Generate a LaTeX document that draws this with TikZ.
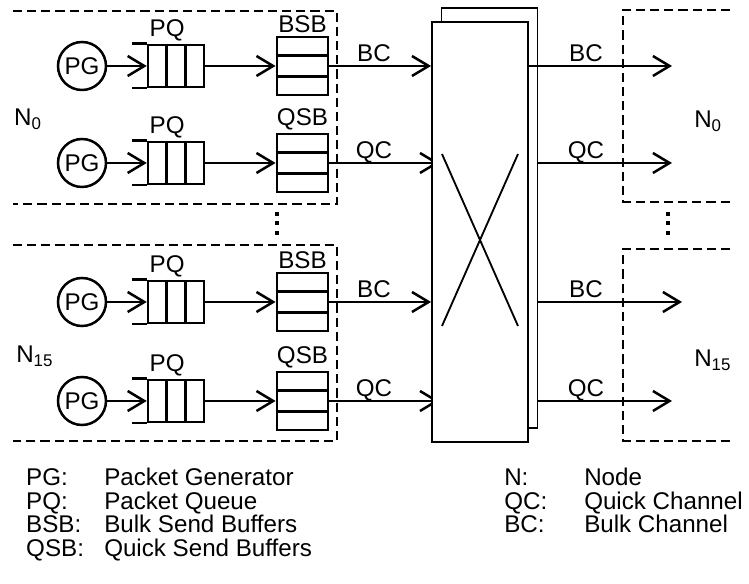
\documentclass[tikz,border=0pt]{standalone}
\usepackage{fontspec}
\setmainfont{Liberation Sans}
\usetikzlibrary{arrows.meta,positioning,calc}

\begin{document}
\begin{tikzpicture}[x=0.6pt,y=-0.6pt,
  font=\fontsize{14.5}{17}\selectfont,
  line width=1.5pt,
  >={Straight Barb[length=10pt,width=12pt]},
  nodebox/.style={line width=1.7pt,dash pattern=on 5.5pt off 3pt},
  gen/.style={circle,draw,minimum size=28.8pt,inner sep=0pt},
  queue/.style={draw,minimum width=33.6pt,minimum height=25.2pt,inner sep=0pt},
  sendbuf/.style={draw,line width=1.7pt,minimum width=30.6pt,minimum height=34.8pt,inner sep=0pt},
  crossbar/.style={draw,fill=white,line width=1.1pt,minimum width=57.6pt,minimum height=252pt,inner sep=0pt},
  tag/.style={inner sep=1pt},
  chan/.style={anchor=base,inner sep=0pt,yshift=2.4pt},
  key/.style={anchor=base west,inner sep=0pt}]

  \useasboundingbox (0,0) rectangle (749,584);

  % Node boxes
  \draw[nodebox] (13,11) -| (337,204) -- (13,204);
  \draw[nodebox] (13,245) -| (337,441) -- (13,441);
  \draw[nodebox] (730,10) -| (623,202) -- (730,202);
  \draw[nodebox] (730,249) -| (623,441) -- (730,441);
  \node[key] (n0in) at (13,126) {N\textsubscript{0}};
  \node[key] (n15in) at (15,363) {N\textsubscript{15}};
  \node[key] (n0out) at (693,128) {N\textsubscript{0}};
  \node[key] (n15out) at (693,367) {N\textsubscript{15}};
  \foreach \yy in {212,221,231} {
    \fill (275,\yy) rectangle ++(4,4);
    \fill (666,\yy) rectangle ++(4,4);
  }

  % Crossbar switch (front plane is drawn after the channels)
  \node[crossbar] (swb) at (489.5,218) {};
  \node[crossbar,draw=none,fill=none] (sw) at (480,232) {};

  % Generators, queues, send buffers and channels
  \foreach \r/\y/\b/\c/\s/\e/\t in {1/66/BSB/BC/sw/672/0pt, 2/163/QSB/QC/swb/672/-4.8pt,
                                    3/302/BSB/BC/swb/682/0pt, 4/401/QSB/QC/swb/672/-4.8pt}{
    \node[gen] (pg\r) at (82,\y) {PG};
    \node[queue] (pq\r) at (176,\y) {};
    \node[sendbuf] (sb\r) at (302.5,\y) {};
    \node[tag,anchor=south west] (pql\r) at (pq\r.north west) {PQ};
    \node[tag,above=0pt of sb\r] (sbl\r) {\b};
    \draw (pq\r.north west) -- ++(-15,0);
    \draw (pq\r.south west) -- ++(-15,0);
    \draw ($(pq\r.north west)!1/3!(pq\r.north east)$) -- ($(pq\r.south west)!1/3!(pq\r.south east)$);
    \draw ($(pq\r.north west)!2/3!(pq\r.north east)$) -- ($(pq\r.south west)!2/3!(pq\r.south east)$);
    \draw[line width=1.7pt] ($(sb\r.north west)!1/3!(sb\r.south west)$) -- ($(sb\r.north east)!1/3!(sb\r.south east)$);
    \draw[line width=1.7pt] ($(sb\r.north west)!2/3!(sb\r.south west)$) -- ($(sb\r.north east)!2/3!(sb\r.south east)$);
    \draw[->] (pg\r) -- (pq\r);
    \draw[->] (pq\r) -- (sb\r);
    \draw[->,shorten >=\t] (sb\r) -- (sw.west |- sb\r);
    \node[chan] (cl\r) at (374,\y) {\c};
    \coordinate (out\r) at (\e,\y);
    \draw[->] (\s.east |- sb\r) -- (out\r);
    \node[chan] (cr\r) at (586,\y) {\c};
  }

  % Front plane of the switch
  \node[crossbar] (swf) at (sw.center) {};
  \draw[line width=1.1pt] (442,154) -- (518,326);
  \draw[line width=1.1pt] (518,154) -- (442,326);

  % Legend
  \node[key] (k1) at (25,486) {PG:};
  \node[key] (d1) at (103,486) {Packet Generator};
  \node[key] (k2) at (25,509.5) {PQ:};
  \node[key] (d2) at (103,509.5) {Packet Queue};
  \node[key] (k3) at (25,533) {BSB:};
  \node[key] (d3) at (103,533) {Bulk Send Buffers};
  \node[key] (k4) at (25,556.5) {QSB:};
  \node[key] (d4) at (103,556.5) {Quick Send Buffers};
  \node[key] (k5) at (503,486) {N:};
  \node[key] (d5) at (583,486) {Node};
  \node[key] (k6) at (503,509.5) {QC:};
  \node[key] (d6) at (583,509.5) {Quick Channel};
  \node[key] (k7) at (503,533) {BC:};
  \node[key] (d7) at (583,533) {Bulk Channel};
\end{tikzpicture}
\end{document}
